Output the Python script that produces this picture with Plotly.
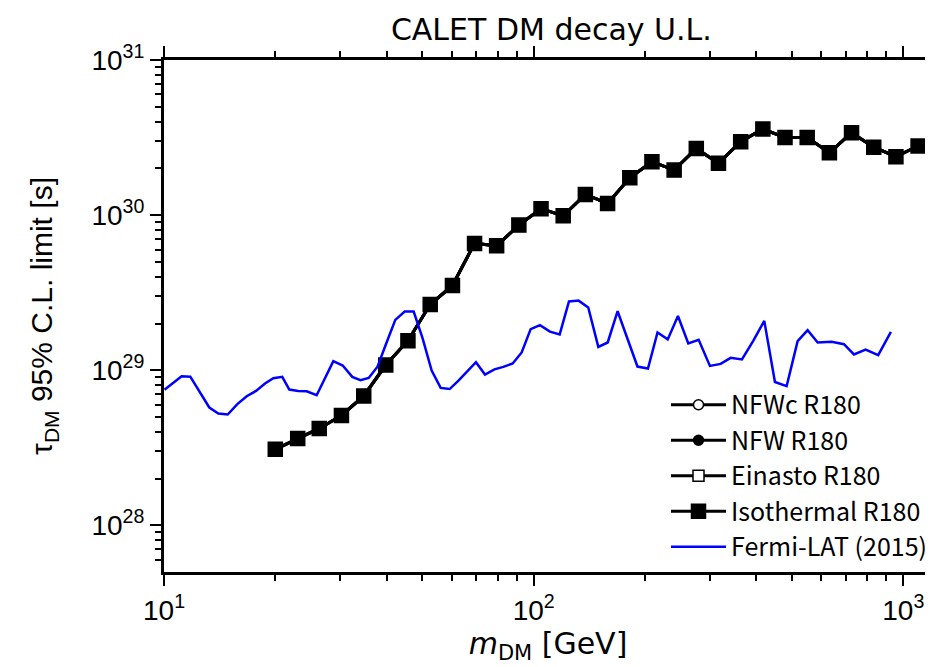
import plotly.graph_objects as go

# CALET DM decay upper limits (four halo profiles overlap on this scale)
mass_gev = [20.0, 23.0, 26.3, 30.2, 34.7, 39.8, 45.7, 52.5, 60.3, 69.2,
            79.4, 91.2, 104.7, 120.2, 138.0, 158.5, 182.0, 208.9, 239.9, 275.4,
            316.2, 363.1, 416.9, 478.6, 549.5, 631.0, 724.4, 831.8, 955.0, 1096.5]
tau_isothermal = [3.09e28, 3.63e28, 4.21e28, 5.11e28, 6.82e28, 1.08e29, 1.55e29, 2.65e29, 3.52e29, 6.57e29,
                  6.34e29, 8.62e29, 1.10e30, 9.89e29, 1.36e30, 1.19e30, 1.74e30, 2.21e30, 1.95e30, 2.69e30,
                  2.16e30, 2.97e30, 3.59e30, 3.16e30, 3.17e30, 2.52e30, 3.40e30, 2.74e30, 2.38e30, 2.79e30]
tau_nfwc = list(tau_isothermal)
tau_nfw = list(tau_isothermal)
tau_einasto = list(tau_isothermal)

# Fermi-LAT (2015)
fermi_mass = [10.03, 11.16, 11.78, 13.26, 14.03, 14.87, 15.79, 16.74, 17.74, 18.76,
              19.76, 20.89, 21.83, 23.08, 24.32, 25.88, 28.71, 30.44, 32.31, 34.01,
              35.79, 37.81, 39.94, 42.24, 44.78, 47.36, 50.05, 52.98, 56.03, 59.26,
              62.6, 66.13, 69.82, 73.84, 78.34, 82.76, 87.75, 92.81, 98.15, 104.0,
              110.7, 117.6, 124.6, 132.3, 140.5, 149.6, 158.6, 168.7, 179.4, 190.9,
              203.8, 216.3, 230.5, 245.7, 262.0, 279.5, 299.8, 320.6, 341.1, 366.0,
              392.6, 420.6, 449.5, 483.5, 517.7, 551.0, 586.6, 639.8, 690.9, 735.3,
              790.8, 855.2, 925.6]
fermi_tau = [7.49e28, 9.15e28, 9.08e28, 5.75e28, 5.26e28, 5.18e28, 6.04e28, 6.80e28, 7.35e28, 8.21e28,
             8.88e28, 9.06e28, 7.51e28, 7.35e28, 7.32e28, 6.90e28, 1.143e29, 1.072e29, 9.06e28, 8.62e28,
             8.91e28, 1.053e29, 1.493e29, 2.11e29, 2.39e29, 2.39e29, 1.609e29, 9.96e28, 7.69e28, 7.56e28,
             8.56e28, 9.75e28, 1.126e29, 9.38e28, 1.012e29, 1.050e29, 1.105e29, 1.302e29, 1.839e29, 1.952e29,
             1.772e29, 1.702e29, 2.775e29, 2.81e29, 2.54e29, 1.413e29, 1.509e29, 2.40e29, 1.613e29, 1.056e29,
             1.026e29, 1.751e29, 1.580e29, 2.237e29, 1.487e29, 1.569e29, 1.066e29, 1.098e29, 1.201e29, 1.174e29,
             1.545e29, 2.08e29, 8.40e28, 7.89e28, 1.539e29, 1.812e29, 1.509e29, 1.523e29, 1.471e29, 1.263e29,
             1.360e29, 1.250e29, 1.767e29]

x_tickvals = [10, 100, 1000]
x_ticktext = ["10<sup>1</sup>", "10<sup>2</sup>", "10<sup>3</sup>"]
x_minorvals = [20, 30, 40, 50, 60, 70, 80, 90, 200, 300, 400, 500, 600, 700, 800, 900]
y_tickvals = [1e28, 1e29, 1e30, 1e31]
y_ticktext = ["10<sup>28</sup>", "10<sup>29</sup>", "10<sup>30</sup>", "10<sup>31</sup>"]
y_minorvals = [6e27, 7e27, 8e27, 9e27,
               2e28, 3e28, 4e28, 5e28, 6e28, 7e28, 8e28, 9e28,
               2e29, 3e29, 4e29, 5e29, 6e29, 7e29, 8e29, 9e29,
               2e30, 3e30, 4e30, 5e30, 6e30, 7e30, 8e30, 9e30]

legend_font = "Noto Sans CJK JP"
title_font = "DejaVu Sans"
tick_font = "Liberation Sans"

fig = go.Figure()
calet = [
    ("NFWc R180", tau_nfwc, "circle", "white", 10),
    ("NFW R180", tau_nfw, "circle", "black", 10),
    ("Einasto R180", tau_einasto, "square", "white", 11),
    ("Isothermal R180", tau_isothermal, "square", "black", 14),
]
for name, vals, sym, fill, sz in calet:
    fig.add_trace(go.Scatter(
        x=mass_gev, y=vals, name=name, mode="lines+markers",
        line=dict(color="black", width=3),
        marker=dict(symbol=sym, size=sz, color=fill, line=dict(color="black", width=1.5)),
    ))
fig.add_trace(go.Scatter(
    x=fermi_mass, y=fermi_tau, name="Fermi-LAT (2015)", mode="lines",
    line=dict(color="#0000ff", width=2.5),
))

def axis_common(minorvals):
    return dict(
        type="log", showline=True, linecolor="black", linewidth=3, mirror="ticks",
        ticks="outside", ticklen=11, tickwidth=2, tickcolor="black",
        showgrid=False, zeroline=False, automargin=False,
        tickfont=dict(family=tick_font, size=28, color="black"),
        minor=dict(tickmode="array", tickvals=minorvals, ticks="outside", ticklen=6,
                   tickwidth=2, tickcolor="black", showgrid=False),
    )

# the page body adds an 8px offset, so the figure is 8px smaller than the window
fig.update_layout(
    template="none",
    width=925, height=659,
    margin=dict(l=156, r=1, t=52, b=95),
    paper_bgcolor="white", plot_bgcolor="white",
    title=dict(text="CALET DM decay U.L.", x=0.5874, xanchor="center", y=0.967, yanchor="middle",
               font=dict(family=title_font, size=30, color="black")),
    xaxis=dict(axis_common(x_minorvals), range=[1, 3.0776], tickvals=x_tickvals, ticktext=x_ticktext,
               title=dict(text="<i>m</i><sub>DM</sub> [GeV]",
                          font=dict(family=title_font, size=30, color="black"), standoff=4)),
    yaxis=dict(axis_common(y_minorvals), range=[27.699, 31], tickvals=y_tickvals, ticktext=y_ticktext,
               title=dict(text="τ<sub>DM</sub> 95% C.L. limit [s]",
                          font=dict(family=tick_font, size=30, color="black"), standoff=30)),
    legend=dict(x=1.0, xanchor="right", y=0.004, yanchor="bottom",
                bgcolor="rgba(255,255,255,0)", borderwidth=0,
                font=dict(family=legend_font, size=25, color="black"),
                itemwidth=55, tracegroupgap=0),
    showlegend=True,
)

fig.write_html("out.html")
